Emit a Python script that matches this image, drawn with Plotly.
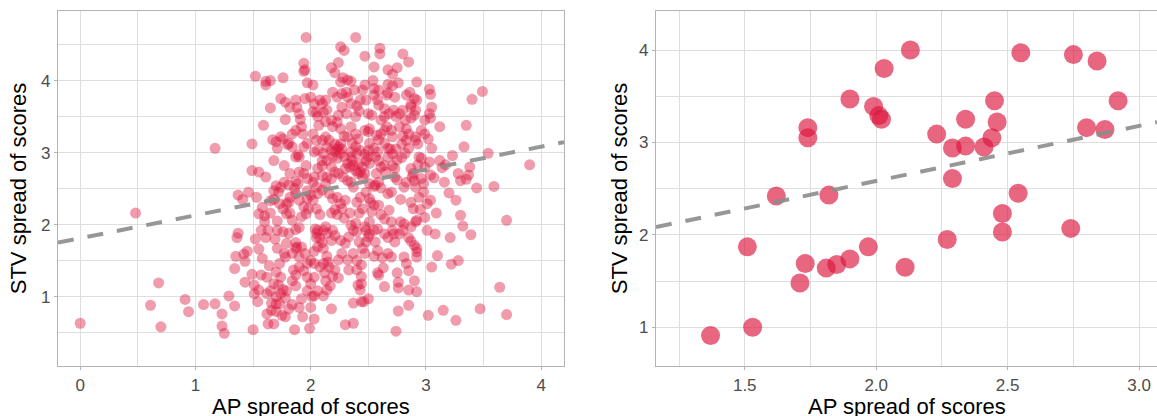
import numpy as np
import plotly.graph_objects as go

# ---------------- Left panel data: (AP spread, STV spread) ----------------
left_sparse = [
    (0.00, 0.63), (0.48, 2.16), (0.61, 0.88), (0.68, 1.19), (0.70, 0.58), (0.91, 0.96),
    (0.94, 0.79), (1.07, 0.89), (1.17, 3.06), (1.17, 0.90), (1.23, 0.76), (1.23, 0.59),
    (1.25, 0.49), (1.29, 1.01), (1.34, 0.87), (1.34, 1.39), (1.35, 1.56), (1.37, 2.41),
    (1.36, 1.82), (1.37, 1.88), (1.41, 2.35), (1.42, 1.59), (1.43, 1.49), (1.45, 1.63),
    (1.46, 2.45), (1.43, 1.20), (1.49, 3.12), (1.49, 2.75), (1.52, 4.06), (1.50, 0.54),
    (1.49, 1.31), (1.51, 1.16), (1.51, 1.04), (1.53, 2.38), (1.55, 2.73), (1.57, 1.30),
    (1.59, 3.38), (1.60, 2.12), (1.61, 2.66), (1.61, 3.99), (1.65, 4.00), (1.61, 3.94),
    (1.61, 1.82), (1.62, 1.04), (1.63, 0.62), (1.68, 0.62), (1.64, 1.43), (1.65, 3.62),
    (1.65, 2.16), (1.66, 0.91), (1.66, 0.81), (1.70, 0.90), (1.67, 3.18), (1.68, 2.89),
    (1.68, 2.35), (1.69, 1.80), (1.71, 1.67), (1.71, 2.05), (1.71, 1.92), (1.72, 1.16),
    (1.73, 1.46), (1.74, 3.75), (1.75, 0.74), (1.76, 1.10), (1.76, 4.04), (1.76, 3.19),
    (1.77, 2.82), (1.78, 3.70), (1.78, 3.46), (1.78, 1.55), (1.79, 2.29), (1.80, 3.11),
    (1.81, 2.31), (1.82, 2.16), (1.82, 2.38), (1.84, 0.89), (1.85, 1.37), (1.86, 0.54),
    (1.87, 1.75), (1.88, 1.69), (1.87, 1.30), (1.87, 2.60), (1.88, 3.63), (1.89, 2.97),
    (1.90, 1.96), (1.90, 1.55), (1.91, 3.46), (1.92, 3.36), (1.93, 3.26), (1.93, 0.72),
]

left_upper = [
    (1.94, 4.13), (1.94, 4.24), (1.96, 4.60), (1.95, 4.15), (1.95, 3.75), (1.96, 2.82),
    (1.97, 3.97), (1.97, 2.47), (1.97, 1.27), (1.99, 0.56), (2.00, 0.85), (2.01, 1.00),
    (2.03, 0.69), (2.03, 1.46), (2.03, 1.63), (2.02, 3.94), (2.02, 3.57), (2.03, 3.01),
    (2.02, 2.34), (2.04, 1.94), (2.05, 1.82), (2.06, 1.69), (2.07, 3.38), (2.08, 3.73),
    (2.10, 3.17), (2.10, 2.89), (2.11, 1.01), (2.12, 1.33), (2.13, 1.97), (2.14, 1.56),
    (2.15, 1.48), (2.16, 1.41), (2.17, 1.15), (2.18, 0.83), (2.18, 4.18), (2.21, 4.11),
    (2.24, 4.25), (2.26, 4.47), (2.29, 4.42), (2.26, 3.98), (2.28, 4.04), (2.32, 4.01),
    (2.35, 3.99), (2.39, 4.60), (2.38, 3.87), (2.35, 3.68), (2.40, 3.65), (2.43, 3.73),
    (2.47, 4.34), (2.54, 4.00), (2.55, 4.19), (2.60, 4.45), (2.60, 4.37), (2.67, 4.15),
    (2.71, 4.09), (2.75, 4.18), (2.80, 4.37), (2.85, 4.26), (2.76, 3.97), (2.92, 3.98),
    (3.03, 3.88), (3.04, 3.81), (3.05, 3.63), (3.04, 3.48), (3.12, 3.36), (3.35, 3.38),
    (3.40, 3.74), (3.49, 3.85), (3.05, 3.06), (3.33, 3.08), (3.54, 2.99), (3.90, 2.83),
    (3.38, 2.80), (3.37, 2.69), (3.35, 2.63), (3.28, 2.71), (3.23, 2.96), (3.17, 2.83),
    (3.14, 2.79), (3.04, 2.69), (3.07, 2.65), (3.59, 2.53), (3.44, 2.51), (3.20, 2.44),
    (3.26, 2.34), (3.01, 2.29), (3.09, 2.16), (3.30, 2.13), (3.32, 1.98), (3.39, 1.86),
    (3.08, 1.87), (3.21, 1.82), (3.70, 2.06), (3.10, 1.57), (3.28, 1.50), (3.22, 1.45),
    (3.05, 1.41), (3.64, 1.13), (3.47, 0.83), (3.70, 0.75), (3.26, 0.67), (3.15, 0.81),
    (3.02, 0.74),
]

left_right_side = [
    (2.92, 1.07), (2.85, 1.09), (2.85, 0.88), (2.76, 0.80), (2.74, 0.52), (2.75, 1.33),
    (2.76, 1.20), (2.76, 1.12), (2.64, 1.14), (2.58, 1.33), (2.59, 1.30), (2.62, 1.54),
    (2.55, 1.56), (2.58, 1.94), (2.50, 0.97), (2.46, 0.93), (2.44, 0.93), (2.37, 0.91),
    (2.37, 0.63), (2.30, 0.61), (2.43, 1.09), (2.41, 1.16), (2.44, 1.28), (2.44, 1.18),
    (2.44, 1.44), (2.32, 1.51), (2.33, 1.37), (2.24, 1.26), (2.48, 1.76), (2.50, 1.83),
    (2.47, 1.97), (2.45, 1.67), (2.42, 1.76), (2.40, 1.90), (2.39, 2.02), (2.51, 2.04),
    (2.53, 2.18), (2.55, 2.27), (2.52, 2.31), (2.67, 2.43), (2.70, 2.45), (2.71, 1.92),
    (2.70, 2.04), (2.68, 2.20), (2.73, 1.76), (2.78, 2.04), (2.81, 2.01), (2.87, 1.97),
    (2.85, 1.82), (2.87, 1.77), (2.90, 1.71), (2.92, 1.67), (2.92, 1.62), (2.92, 1.55),
    (2.92, 2.06), (2.91, 2.04), (2.89, 2.22), (2.87, 2.31), (2.95, 2.21), (2.94, 2.38),
    (2.78, 2.35), (2.98, 2.57), (2.96, 2.64), (2.87, 2.78), (2.88, 2.66), (2.89, 2.71),
    (2.96, 2.92), (2.94, 2.94), (2.91, 3.17), (2.93, 3.12), (2.91, 3.22), (2.90, 3.52),
    (2.91, 3.59), (2.92, 3.73), (2.90, 3.75), (2.87, 3.67), (2.87, 3.63), (2.83, 3.80),
    (2.86, 3.84), (2.73, 3.77), (2.66, 3.80), (2.67, 3.83), (2.80, 3.23), (2.83, 3.33),
    (2.77, 3.36), (2.79, 2.93), (2.75, 2.90), (2.73, 2.78), (2.71, 2.82), (2.73, 2.66),
    (2.75, 2.62), (2.65, 2.73), (2.61, 2.51), (2.59, 2.59), (2.57, 2.71), (2.67, 3.06),
    (2.69, 3.05), (2.64, 3.13), (2.59, 3.18), (2.57, 3.24), (2.61, 3.26), (2.71, 3.22),
    (2.70, 3.31), (2.61, 3.45), (2.64, 3.50), (2.68, 3.54), (2.64, 3.61),
]

left_center = [
    (2.50, 3.29), (2.51, 3.33), (2.47, 3.31), (2.53, 3.52), (2.50, 3.54), (2.48, 3.73),
    (2.55, 3.80), (2.55, 3.89), (2.59, 3.87), (2.45, 3.87), (2.47, 3.94), (2.42, 3.58),
    (2.39, 3.50), (2.39, 3.26), (2.41, 3.19), (2.35, 3.36), (2.31, 3.54), (2.27, 3.63),
    (2.24, 3.52), (2.23, 3.42), (2.26, 3.33), (2.19, 3.36), (2.18, 3.45), (2.14, 3.59),
    (2.11, 3.56), (2.10, 3.68), (2.13, 3.73), (2.05, 3.56), (2.03, 3.68), (2.00, 3.77),
    (2.06, 3.50), (2.13, 3.43), (2.13, 3.22), (2.16, 3.17), (2.14, 3.08), (2.18, 3.03),
    (2.21, 3.01), (2.19, 2.94), (2.24, 3.08), (2.26, 2.99), (2.29, 3.23), (2.32, 3.22),
    (2.35, 3.01), (2.35, 2.94), (2.36, 2.89), (2.37, 2.82), (2.39, 2.75), (2.41, 2.71),
    (2.43, 2.73), (2.47, 2.71), (2.45, 2.66), (2.50, 2.94), (2.48, 2.89), (2.51, 2.85),
    (2.51, 2.57), (2.55, 2.53), (2.56, 2.55), (2.48, 2.45), (2.43, 2.38), (2.40, 2.31),
    (2.37, 2.52), (2.35, 2.59), (2.32, 2.61), (2.28, 2.66), (2.24, 2.71), (2.21, 2.73),
    (2.18, 2.80), (2.10, 2.82), (2.06, 2.78), (2.03, 2.66), (2.02, 2.59), (2.10, 2.48),
    (2.13, 2.57), (2.16, 2.43), (2.19, 2.36), (2.23, 2.38), (2.26, 2.29), (2.27, 2.22),
    (2.30, 2.34), (2.29, 2.09), (2.23, 2.14), (2.21, 2.21), (2.18, 2.16), (2.19, 1.92),
    (2.21, 1.85), (2.18, 1.78), (2.14, 1.88), (2.11, 1.92), (2.06, 1.92), (2.05, 1.88),
    (2.08, 1.81), (2.10, 1.75), (2.11, 1.67), (2.08, 2.14), (2.05, 2.22), (2.06, 2.43),
    (2.05, 2.52), (2.00, 2.41), (1.97, 2.36), (1.98, 2.22), (1.96, 2.15), (1.94, 2.25),
    (1.92, 2.11), (1.90, 2.34), (1.87, 2.43), (1.89, 2.57), (1.86, 2.50), (1.81, 2.55),
    (1.77, 2.59), (1.74, 2.52), (1.72, 2.45), (1.68, 2.47), (1.70, 2.54), (1.73, 2.29),
    (1.76, 2.22), (1.79, 2.15), (1.84, 2.06), (1.87, 1.93), (1.81, 1.88), (1.76, 1.90),
    (1.79, 1.74), (1.77, 1.60), (1.84, 1.60), (1.87, 1.67), (1.92, 1.69), (1.95, 1.60),
    (1.97, 1.46), (2.00, 1.50), (1.94, 1.36), (1.90, 1.41), (1.84, 1.22), (1.87, 1.15),
    (1.79, 1.08), (1.78, 0.98), (1.74, 1.04), (1.70, 1.00), (1.65, 1.08), (1.68, 1.18),
    (1.62, 1.27), (1.70, 1.34), (1.74, 1.27), (2.06, 1.08), (2.03, 1.01), (2.14, 1.09),
    (2.21, 1.37), (2.19, 1.28), (2.24, 1.51), (2.27, 1.60), (2.30, 1.74), (2.33, 1.83),
    (2.26, 1.78), (2.37, 1.60), (2.40, 1.50), (2.35, 1.99), (2.37, 1.92), (2.34, 2.16),
    (2.42, 2.16), (2.45, 2.22), (2.51, 2.36), (2.59, 2.27), (2.61, 2.14), (2.64, 2.08),
    (2.64, 1.87), (2.67, 1.60), (2.70, 1.55), (2.56, 1.76), (2.81, 1.55), (2.83, 1.46),
    (2.99, 2.10), (3.01, 1.92), (2.81, 2.52), (2.83, 2.59), (2.93, 2.83), (2.99, 2.80),
    (3.03, 2.87), (2.85, 3.06), (2.82, 2.99), (2.96, 3.31), (2.99, 3.26), (3.02, 3.19),
]

left_dense_extra = [
    (2.21, 3.12), (2.23, 3.05), (2.26, 3.12), (2.27, 3.05), (2.32, 2.85), (2.34, 2.80),
    (2.30, 2.78), (2.42, 2.85), (2.45, 2.80), (2.47, 2.98), (2.43, 3.03), (2.55, 3.06),
    (2.58, 3.01), (2.56, 2.94), (2.59, 2.89), (2.61, 2.80), (2.64, 2.82), (2.67, 2.94),
    (2.71, 2.98), (2.74, 3.05), (2.79, 3.12), (2.83, 3.17), (2.85, 3.26), (2.39, 3.08),
    (2.40, 2.99), (2.36, 3.13), (2.29, 2.94), (2.23, 2.92), (2.14, 2.89), (2.11, 2.99),
    (2.06, 3.03), (2.05, 3.17), (2.02, 3.26), (1.97, 3.13), (1.94, 3.08), (1.90, 2.94),
    (1.87, 2.94), (1.84, 3.08), (1.81, 3.13), (1.84, 3.26), (1.87, 3.31), (1.90, 3.54),
    (1.87, 3.73), (1.82, 3.63), (1.74, 3.22), (1.71, 3.06), (1.70, 3.15), (1.94, 2.71),
    (1.97, 2.64), (1.90, 2.73), (1.82, 2.71), (2.18, 2.64), (2.14, 2.66), (2.10, 2.68),
    (2.27, 3.82), (2.31, 3.84), (2.32, 3.77), (2.19, 3.84), (2.23, 3.77), (2.67, 3.95),
    (2.71, 3.93), (2.58, 3.73), (2.59, 3.66), (2.72, 3.59), (2.74, 3.50), (2.77, 3.54),
    (2.80, 3.59), (2.82, 3.45), (2.87, 3.48), (2.51, 3.13), (2.50, 3.03), (2.64, 3.31),
    (2.66, 3.36), (2.99, 3.45), (3.03, 3.54), (3.12, 2.89), (3.04, 2.34), (3.16, 2.59),
    (2.98, 2.45), (2.91, 2.52), (2.90, 2.61), (3.30, 2.61),
]

left_lower = [
    (2.51, 1.87), (2.48, 1.92), (2.55, 1.92), (2.67, 1.82), (2.72, 1.87), (2.77, 1.87),
    (2.80, 1.92), (2.58, 1.64), (2.63, 1.40), (2.85, 1.36), (2.90, 1.22), (2.40, 1.37),
    (2.47, 1.60), (2.11, 1.46), (2.08, 1.41), (2.13, 1.22), (2.03, 1.27), (2.00, 1.18),
    (1.97, 1.08), (1.92, 0.97), (1.90, 0.85), (1.81, 0.83), (1.78, 0.72), (1.73, 0.90),
    (1.70, 0.79), (1.62, 0.76), (1.55, 1.09), (1.54, 0.93), (1.58, 1.53), (1.55, 1.66),
    (1.52, 1.80), (1.57, 1.92), (1.60, 2.04), (1.63, 1.92), (1.65, 2.33), (1.58, 2.24),
    (1.55, 2.15),
]

# Fitted (dashed) line
left_fit_intercept = 1.811
left_fit_slope = 0.318

# ---------------- Right panel data ----------------
ap_right = [1.37, 1.53, 1.51, 1.62, 1.71, 1.73, 1.74, 1.74, 1.81, 1.82,
            1.85, 1.90, 1.90, 1.97, 1.99, 2.01, 2.02, 2.03, 2.11, 2.13,
            2.23, 2.27, 2.29, 2.29, 2.34, 2.34, 2.41, 2.44, 2.45, 2.46,
            2.48, 2.48, 2.54, 2.55, 2.74, 2.75, 2.80, 2.84, 2.87, 2.92]
stv_right = [0.91, 1.00, 1.87, 2.42, 1.48, 1.69, 3.16, 3.05, 1.64, 2.43,
             1.68, 1.74, 3.47, 1.87, 3.39, 3.29, 3.25, 3.80, 1.65, 4.00,
             3.09, 1.95, 2.94, 2.61, 3.25, 2.96, 2.95, 3.05, 3.45, 3.22,
             2.23, 2.03, 2.45, 3.97, 2.07, 3.95, 3.16, 3.88, 3.14, 3.45]

right_fit_intercept = 1.391
right_fit_slope = 0.596

# ---------------- Assemble ----------------
left_points = left_sparse + left_upper + left_right_side + left_center + left_dense_extra + left_lower
ap_left = [p[0] for p in left_points]
stv_left = [p[1] for p in left_points]

left_xrange = [-0.193, 4.198]
left_yrange = [0.036, 4.967]
right_xrange = [1.1625, 3.068]
right_yrange = [0.581, 4.422]

FONT = "Liberation Sans, Arial, sans-serif"
CRIMSON = "rgb(220,20,60)"
GRID = "#dedede"
BORDER = "#b3b3b3"
TICKCOL = "#4d4d4d"

fig = go.Figure()

fig.add_trace(go.Scatter(
    x=ap_left, y=stv_left, mode="markers", xaxis="x", yaxis="y",
    marker=dict(size=11, color=CRIMSON, opacity=0.42, line=dict(width=0)),
    showlegend=False, hoverinfo="skip"))

lx = np.array(left_xrange)
fig.add_trace(go.Scatter(
    x=lx, y=left_fit_intercept + left_fit_slope * lx, mode="lines", xaxis="x", yaxis="y",
    line=dict(color="rgba(140,140,140,0.9)", width=4, dash="16px,14px"),
    showlegend=False, hoverinfo="skip"))

fig.add_trace(go.Scatter(
    x=ap_right, y=stv_right, mode="markers", xaxis="x2", yaxis="y2",
    marker=dict(size=19, color=CRIMSON, opacity=0.65, line=dict(width=0)),
    showlegend=False, hoverinfo="skip"))

rx = np.array(right_xrange)
fig.add_trace(go.Scatter(
    x=rx, y=right_fit_intercept + right_fit_slope * rx, mode="lines", xaxis="x2", yaxis="y2",
    line=dict(color="rgba(140,140,140,0.9)", width=4, dash="16px,14px"),
    showlegend=False, hoverinfo="skip"))


def axis_style(**kw):
    base = dict(
        showgrid=True, gridcolor=GRID, gridwidth=1.1,
        zeroline=False, showline=True, linecolor=BORDER, linewidth=1.4,
        ticks="outside", ticklen=3, tickcolor=BORDER, tickwidth=1.2,
        tickfont=dict(family=FONT, size=17, color=TICKCOL),
        automargin=False,
    )
    base.update(kw)
    return base


W, H = 1157, 416
ML, MT, MB, MR = 58, 11, 50, 0
PW = W - ML - MR
PH = H - MT - MB
XTITLE_Y = -(406 - (H - MB)) / PH   # x-axis title centre, in paper units

TITLE_FONT = dict(family=FONT, size=22, color="black")

fig.update_layout(
    width=W, height=H,
    margin=dict(l=ML, r=MR, t=MT, b=MB),
    plot_bgcolor="white", paper_bgcolor="white",
    font=dict(family=FONT),
    xaxis=axis_style(
        domain=[0, (564 - ML) / PW], range=left_xrange,
        tickvals=[0, 1, 2, 3, 4], mirror=True, anchor="y",
        minor=dict(tickvals=[0.5, 1.5, 2.5, 3.5], showgrid=True, gridcolor=GRID, gridwidth=0.8, ticks=""),
    ),
    yaxis=axis_style(
        domain=[0, 1], range=left_yrange,
        tickvals=[1, 2, 3, 4], mirror=True, anchor="x",
        minor=dict(tickvals=[0.5, 1.5, 2.5, 3.5, 4.5], showgrid=True, gridcolor=GRID, gridwidth=0.8, ticks=""),
        title=dict(text="STV spread of scores", font=TITLE_FONT, standoff=8),
    ),
    xaxis2=axis_style(
        domain=[(656 - ML) / PW, 1], range=right_xrange,
        tickvals=[1.5, 2.0, 2.5, 3.0], ticktext=["1.5", "2.0", "2.5", "3.0"], mirror=True, anchor="y2",
        minor=dict(tickvals=[1.25, 1.75, 2.25, 2.75], showgrid=True, gridcolor=GRID, gridwidth=0.8, ticks=""),
    ),
    yaxis2=axis_style(
        domain=[0, 1], range=right_yrange,
        tickvals=[1, 2, 3, 4], mirror=False, anchor="x2",
        minor=dict(tickvals=[1.5, 2.5, 3.5], showgrid=True, gridcolor=GRID, gridwidth=0.8, ticks=""),
        title=dict(text="STV spread of scores", font=TITLE_FONT, standoff=5),
    ),
    annotations=[
        dict(text="AP spread of scores", xref="x domain", yref="paper", x=0.5, y=XTITLE_Y,
             xanchor="center", yanchor="middle", showarrow=False, font=TITLE_FONT),
        dict(text="AP spread of scores", xref="x2 domain", yref="paper", x=0.5, y=XTITLE_Y,
             xanchor="center", yanchor="middle", showarrow=False, font=TITLE_FONT),
    ],
)

fig.write_html(
    "out.html",
    config={"displayModeBar": False},
    post_script="document.body.style.margin='0px';document.body.style.overflow='hidden';",
)
